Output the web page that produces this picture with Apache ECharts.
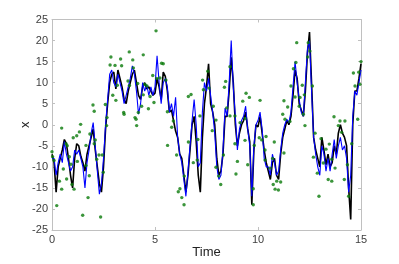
<!DOCTYPE html>
<html><head><meta charset="utf-8">
<script src="https://cdn.jsdelivr.net/npm/echarts@6/dist/echarts.min.js"></script>
<style>html,body{margin:0;padding:0;background:#fff}#c{width:399px;height:264px}</style>
</head><body><div id="c"></div>
<script>
const xTicks = [0, 5, 10, 15];
const yTicks = [-25, -20, -15, -10, -5, 0, 5, 10, 15, 20, 25];
const stepTimes = Array.from({length: 151}, (_, i) => +(i * 0.1).toFixed(1));
const trueX = [-7,-9,-16,-10,-8,-6,-3.5,-4.5,-8,-12,-15,-8,-4.5,-5,-7.5,-9,-11,-7,-5,-3,-1,-6,-10,-14,-16,-10,-1,5,10,12,12.5,8.5,13,11,9,6,5,8,10,12,13,10,7,6,9,10,8.5,9,8,7,7.5,11,9,6,12.5,11.5,8,3,3.5,1,-1.5,-3,-7,-8,-12,-16,-12,-6,0,2,-4,-12,-16,-3,5,9,14.5,5,3,0,-8,-12,-11,-7,2,2,8,16,10,0,-5,-2,0,1,3,-1,-4,-19,-6,0,-0.5,2,-2,-6,-9,-11,-13,-9,-8,-12,-13,-7,-3,-1,1,0,2,7,13,11,5,3.5,2,8,17,22,10,-3,-6,-8,-10,-3,-6,-9.5,-7,-10,-9,-5,-7,-2,0,-2,-3,-5,-15,-22.5,0,8,8,11,14.5];
const estX = [-8,-8,-12,-9,-7,-9,-4,-7,-9,-11,-10,-6,-7,-6,-8,-10,-15,-9,-6,-2,0.5,-5,-11,-16.5,-14,-8,0,6,12,13,10,9,12,10,8,5,7,9,11,14,12,8,2.5,5,10,8,9.5,7,9,7,9,16.4,10,5,10,11,9,3,5,2,6.5,-3,-7,-9,-13,-17,-11,-5,1,6,0,-10,-9,3,10,8,11,7,3,-2,-10,-13,-12,-6,4,2,10,20,9,2,-6,-1,1,2,4.4,-1,-5,-17,-5,0,1,3,-1,-8,-10,-10,-12,-7,-9,-12,-11,-6,-2,0,1.3,0.5,3,9,15,10,6,3,2,10,18,20,8,-3,-7,-10,-12,-5,-7,-11,-8,-11,-7,-3.5,-8,-5,-3,-6,-5,-8,-16,-12,2,8,7,10,13];
const measT = [0,0.03,0.1,0.23,0.36,0.47,0.47,0.55,0.68,0.71,0.74,0.84,0.92,0.97,1.03,1.07,1.2,1.23,1.33,1.39,1.49,1.65,1.65,1.75,1.81,1.84,1.99,2.05,2.05,2.1,2.17,2.28,2.36,2.44,2.49,2.59,2.65,2.67,2.82,2.86,2.95,3.06,3.1,3.17,3.33,3.38,3.48,3.5,3.69,3.75,3.76,3.92,3.95,4.03,4.08,4.11,4.16,4.19,4.35,4.43,4.43,4.51,4.61,4.68,4.76,4.89,4.95,5.05,5.08,5.24,5.32,5.4,5.53,5.6,5.61,5.81,5.89,6.05,6.13,6.21,6.3,6.41,6.42,6.62,6.62,6.75,6.86,7.05,7.08,7.18,7.31,7.35,7.56,7.62,7.78,7.83,7.96,7.96,8.09,8.19,8.32,8.37,8.43,8.48,8.64,8.64,8.88,8.88,8.93,9.0,9.13,9.26,9.37,9.37,9.42,9.5,9.58,9.77,9.77,9.82,10.06,10.1,10.18,10.34,10.34,10.39,10.58,10.71,10.74,10.79,10.83,10.91,10.99,11.1,11.2,11.26,11.26,11.31,11.44,11.55,11.6,11.72,11.8,11.84,11.88,12.0,12.04,12.15,12.2,12.25,12.28,12.41,12.44,12.52,12.64,12.69,12.77,12.88,12.96,13.06,13.17,13.3,13.41,13.46,13.58,13.58,13.69,13.74,13.9,13.98,14.06,14.19,14.22,14.34,14.4,14.55,14.63,14.71,14.84,14.89,14.95,15.0];
const measX = [-6.4,-7.6,-8.5,-19.2,-13.4,-0.8,-15.3,-10.5,-4.5,-12.9,-5,-7.6,-9.4,-14.2,-3.1,-15.3,-2.6,-8.7,-1.7,0.1,-21.5,-4.9,-9.7,-17.3,-12.1,-2.2,4.7,3.2,-4.5,-3.6,-8.2,-7.2,-21.9,-7.2,-11.3,4.8,-0.2,1.7,14.2,16.1,7,14.1,5.8,9.4,15.6,14,2.9,2.5,10.4,17.3,9.3,15.4,13.5,1.7,1.3,-0.2,9.8,2.9,4.4,16.6,7.1,9.6,9.2,3.8,6.7,11.7,5.3,22.3,11,11.1,14.6,14.5,10.6,3.1,-4.9,-0.6,0.9,-7.2,-15.9,-15.2,-17.3,-19,-12.2,6.7,-4.1,7.2,-9,-8.4,-3.5,2.1,10.6,8.3,12.7,8.7,-1.4,4.4,1.1,-10.1,-12.2,-14.2,-7.2,8.9,10.3,4,13.8,2.1,2.1,-4.5,-11.7,-8.7,0.5,5.6,1.5,-3.7,7.5,-9.5,6.5,-15.2,-19,-4.9,-3.1,5.8,-3.6,-6,-8.4,-2.8,-10.3,-8,-14.2,-4.1,-15.3,-13.4,-15.5,-13.6,2.5,5.7,-6.7,1.3,4.2,0.8,9.2,13.3,6.6,14.8,19.5,4.4,6.5,9.4,2.5,7.1,-0.2,16.1,19.5,17.5,9.2,-7.7,-2,-11.5,-17,-3.3,-9.1,-5.8,-13,-4.6,-13.4,-8.2,1.9,-10.3,-0.2,0.9,-1.8,-13,0.9,-9.5,-17,-4.5,12.3,9.2,1.3,12.5,9.6,15];

const pair = (xs, ys) => xs.map((x, i) => [x, ys[i]]);
const chart = echarts.init(document.getElementById('c'), null, {renderer: 'canvas'});
const axisLineStyle = {onZero: false, lineStyle: {color: '#c0c0c0', width: 1}};
const tickStyle = {inside: true, length: 3, lineStyle: {color: '#c0c0c0'}};
const labelStyle = {color: '#404040', fontSize: 11, fontFamily: 'Liberation Sans, Arial, sans-serif'};
chart.setOption({
  animation: false,
  grid: {left: 52, right: 38, top: 19.5, bottom: 29},
  xAxis: [
    {type: 'value', min: 0, max: 15, interval: 5, position: 'bottom',
     name: 'Time', nameLocation: 'middle', nameGap: 16, nameMoveOverlap: false,
     nameTextStyle: {color: '#222', fontSize: 13, fontFamily: 'Liberation Sans, Arial, sans-serif'},
     axisLine: axisLineStyle, axisTick: tickStyle,
     axisLabel: Object.assign({margin: 4, formatter: v => xTicks.includes(v) ? String(v) : ''}, labelStyle),
     splitLine: {show: false}},
    {type: 'value', min: 0, max: 15, interval: 5, position: 'top',
     axisLine: axisLineStyle, axisTick: tickStyle, axisLabel: {show: false}, splitLine: {show: false}}
  ],
  yAxis: [
    {type: 'value', min: -25, max: 25, interval: 5, position: 'left',
     name: 'x', nameLocation: 'middle', nameGap: 20, nameRotate: 90, nameMoveOverlap: false,
     nameTextStyle: {color: '#222', fontSize: 13, fontFamily: 'Liberation Sans, Arial, sans-serif'},
     axisLine: axisLineStyle, axisTick: tickStyle,
     axisLabel: Object.assign({margin: 4, formatter: v => yTicks.includes(v) ? String(v) : ''}, labelStyle),
     splitLine: {show: false}},
    {type: 'value', min: -25, max: 25, interval: 5, position: 'right',
     axisLine: axisLineStyle, axisTick: tickStyle, axisLabel: {show: false}, splitLine: {show: false}}
  ],
  series: [
    {type: 'line', data: pair(stepTimes, trueX), showSymbol: false, silent: true,
     lineStyle: {color: '#000000', width: 1.6}, z: 2},
    {type: 'line', data: pair(stepTimes, estX), showSymbol: false, silent: true,
     lineStyle: {color: '#0000ff', width: 1.1}, z: 3},
    {type: 'scatter', data: pair(measT, measX), symbol: 'circle', symbolSize: 3.4, silent: true,
     itemStyle: {color: '#0a7a0a'}, z: 4}
  ]
});
</script></body></html>
